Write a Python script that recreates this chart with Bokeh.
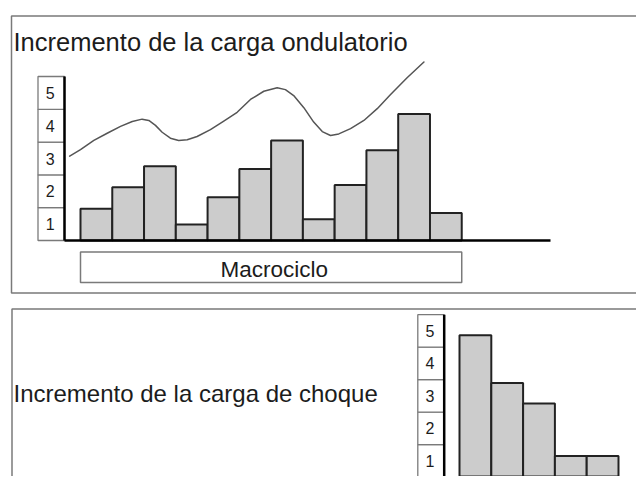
from bokeh.plotting import figure
from bokeh.layouts import column
from bokeh.models import Range1d
from bokeh.core.properties import value
from bokeh.embed import file_html
from bokeh.resources import INLINE

# ---------------- data ----------------
levels = [1, 2, 3, 4, 5]
level_labels = ["1", "2", "3", "4", "5"]

# top panel: wave-like (ondulatorio) loading
wave_x = list(range(1, 13))
wave_vals = [0.97, 1.62, 2.26, 0.49, 1.32, 2.18, 3.05, 0.65, 1.69, 2.75, 3.86, 0.84]
trend_x = [0.16, 0.50, 0.92, 1.34, 1.76, 2.13, 2.44, 2.65, 2.86, 3.07, 3.33,
           3.59, 3.86, 4.17, 4.59, 5.01, 5.43, 5.85, 6.27, 6.69, 6.95, 7.21,
           7.53, 7.84, 8.11, 8.37, 8.63, 9.00, 9.42, 9.84, 10.26, 10.78, 11.31]
trend_y = [2.57, 2.77, 3.05, 3.27, 3.48, 3.63, 3.70, 3.66, 3.51, 3.30, 3.12,
           3.05, 3.07, 3.17, 3.38, 3.64, 3.91, 4.30, 4.55, 4.66, 4.60, 4.42,
           4.05, 3.61, 3.32, 3.20, 3.25, 3.41, 3.66, 4.02, 4.45, 4.96, 5.44]
title_top = "Incremento de la carga ondulatorio"
macro_label = "Macrociclo"

# bottom panel: shock (choque) loading
shock_x = [1, 2, 3, 4, 5]
shock_vals = [4.37, 2.90, 2.27, 0.65, 0.65]
title_bottom = "Incremento de la carga de choque"

FONT = value("Liberation Sans")
BAR_FILL = "#cccccc"
BAR_LINE = "#222222"
GRID_LINE = "#7a7a7a"
TEXT = "#1c1c1c"

W = 636
H1 = 300
H2 = 176


def make_fig(h, x0, x1, y0, y1):
    p = figure(width=W, height=h, output_backend="svg", toolbar_location=None,
               x_axis_type=None, y_axis_type=None,
               x_range=Range1d(x0, x1), y_range=Range1d(y0, y1),
               min_border=0, min_border_left=0, min_border_right=0,
               min_border_top=0, min_border_bottom=0)
    p.grid.visible = False
    p.outline_line_color = None
    p.background_fill_color = "white"
    p.border_fill_color = "white"
    return p


# ---------------- top panel ----------------
SX1, BAR1_PX, SY1, BASE1_PX = 31.77, 80.0, 32.8, 240.0
SCR_L, SCR_T1 = 0.0, 0.0


def dx1(px):
    return 0.5 + (px - BAR1_PX) / SX1


def dy1(py):
    return (BASE1_PX - py) / SY1


p1 = make_fig(H1, dx1(SCR_L), dx1(SCR_L + W), dy1(SCR_T1 + H1), dy1(SCR_T1))

# panel frame
p1.quad(left=[dx1(11)], right=[dx1(700)], top=[dy1(15.5)], bottom=[dy1(292.5)],
        fill_color=None, line_color=GRID_LINE, line_width=1.5)
p1.text(x=[dx1(13)], y=[dy1(41.5)], text=[title_top], text_font=FONT,
        text_font_size="25.5px", text_color=TEXT, text_align="left",
        text_baseline="alphabetic")

# level scale box
box_l1, box_r1 = dx1(37.5), dx1(64)
p1.quad(left=box_l1, right=box_r1, bottom=[v - 1 for v in levels], top=levels,
        fill_color="white", line_color=GRID_LINE, line_width=1.3)
p1.text(x=(box_l1 + box_r1) / 2 - 0.03, y=[v - 0.5 for v in levels], text=level_labels,
        text_font=FONT, text_font_size="16px", text_color=TEXT,
        text_align="center", text_baseline="middle")

# bars
p1.vbar(x=wave_x, top=wave_vals, bottom=0, width=1.0, fill_color=BAR_FILL,
        line_color=BAR_LINE, line_width=2)

# axes lines
p1.line(x=[box_r1, box_r1], y=[0, max(levels)], line_color="black", line_width=2.5)
p1.line(x=[box_r1, dx1(550)], y=[0, 0], line_color="black", line_width=2.5)

# trend curve
p1.line(x=trend_x, y=trend_y, line_color="#555555", line_width=1.5,
        line_join="round", line_cap="round")

# macrocycle box
p1.quad(left=[wave_x[0] - 0.5], right=[wave_x[-1] + 0.5], top=[dy1(251.5)],
        bottom=[dy1(282)], fill_color="white", line_color=GRID_LINE, line_width=1.5)
p1.text(x=[(wave_x[0] + wave_x[-1]) / 2 + 0.1], y=[dy1(268.5)], text=[macro_label],
        text_font=FONT, text_font_size="22.5px", text_color=TEXT,
        text_align="center", text_baseline="middle")

# ---------------- bottom panel ----------------
SX2, BAR2_PX, SY2, BASE2_PX = 31.8, 459.0, 32.5, 476.7
SCR_T2 = SCR_T1 + H1


def dx2(px):
    return 0.5 + (px - BAR2_PX) / SX2


def dy2(py):
    return (BASE2_PX - py) / SY2


p2 = make_fig(H2, dx2(SCR_L), dx2(SCR_L + W), dy2(SCR_T2 + H2), dy2(SCR_T2))

p2.quad(left=[dx2(11.5)], right=[dx2(700)], top=[dy2(308.5)], bottom=[dy2(560)],
        fill_color=None, line_color=GRID_LINE, line_width=1.5)
p2.text(x=[dx2(13)], y=[dy2(393.3)], text=[title_bottom], text_font=FONT,
        text_font_size="24px", text_color=TEXT, text_align="left",
        text_baseline="alphabetic")

box_l2, box_r2 = dx2(417.3), dx2(443.7)
p2.quad(left=box_l2, right=box_r2, bottom=[v - 1 for v in levels], top=levels,
        fill_color="white", line_color=GRID_LINE, line_width=1.3)
p2.text(x=(box_l2 + box_r2) / 2 - 0.03, y=[v - 0.5 for v in levels], text=level_labels,
        text_font=FONT, text_font_size="16px", text_color=TEXT,
        text_align="center", text_baseline="middle")

p2.vbar(x=shock_x, top=shock_vals, bottom=0, width=1.0, fill_color=BAR_FILL,
        line_color=BAR_LINE, line_width=2)
p2.line(x=[box_r2, box_r2], y=[0, max(levels)], line_color="black", line_width=2.5)
p2.line(x=[box_r2, dx2(700)], y=[0, 0], line_color="black", line_width=2.5)

layout = column(p1, p2, spacing=0)

open("out.html", "w").write(file_html(layout, INLINE))
